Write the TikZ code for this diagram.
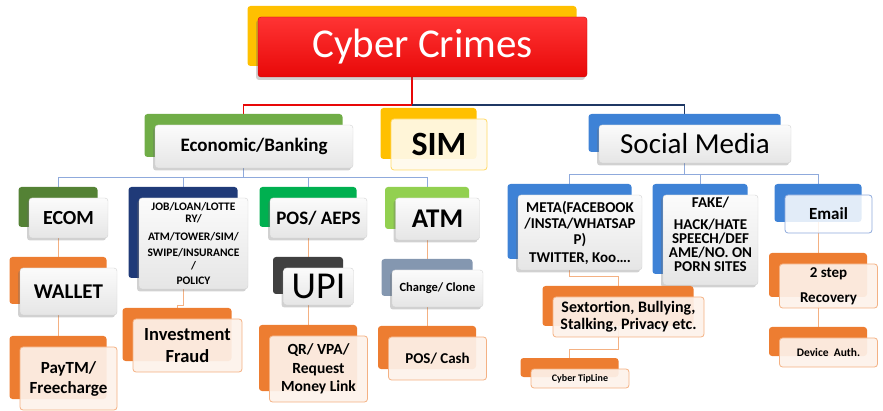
\documentclass[tikz,border=0pt]{standalone}
\usepackage{fontspec}
\setmainfont{Carlito}
\usetikzlibrary{shadows,backgrounds}

\definecolor{cyberyellow}{HTML}{FFC000}
\definecolor{cyberred}{HTML}{E80808}
\definecolor{cyberredtop}{HTML}{FF3434}
\definecolor{ecogreen}{HTML}{70AD47}
\definecolor{ecomgreen}{HTML}{548235}
\definecolor{posgreen}{HTML}{00B050}
\definecolor{atmgreen}{HTML}{92D050}
\definecolor{jobnavy}{HTML}{1F3A78}
\definecolor{smblue}{HTML}{3E82D6}
\definecolor{cardorange}{HTML}{ED7D31}
\definecolor{upigray}{HTML}{404040}
\definecolor{slate}{HTML}{8497B0}
\definecolor{peachfill}{HTML}{FDF2EA}
\definecolor{orangeline}{HTML}{F4B183}
\definecolor{blueline}{HTML}{8FAADC}
\definecolor{navyline}{HTML}{1F3864}
\definecolor{creamfill}{HTML}{FFFAEB}
\definecolor{creamline}{HTML}{FFD966}

\tikzset{
  back/.style={fill=#1, rounded corners=3pt, inner sep=0pt},
  wh/.style 2 args={minimum width=#1pt, minimum height=#2pt},
  fs/.style 2 args={font=\bfseries\fontsize{#1}{#2}\selectfont},
  fr/.style 2 args={font=\fontsize{#1}{#2}\selectfont},
  front/.style={xshift=10.5pt, yshift=-11pt, rounded corners=3pt, inner sep=1pt, align=center},
  glossy/.style={front, top color=gray!3, bottom color=gray!20, draw=gray!35, line width=.4pt,
    drop shadow={shadow xshift=-2pt, shadow yshift=-2.5pt, opacity=.3, fill=black!60}},
  peach/.style={front, fill=peachfill, fill opacity=.92, text opacity=1, draw=orangeline, line width=.8pt},
  cream/.style={front, fill=creamfill, fill opacity=.92, text opacity=1, draw=creamline, line width=.8pt},
  mailbox/.style={front, fill=white, fill opacity=.85, text opacity=1, draw=blueline, line width=.8pt},
  redbox/.style={front, top color=cyberredtop, bottom color=cyberred, draw=cyberred!85!black, text=white,
    drop shadow={shadow xshift=-2pt, shadow yshift=-3pt, opacity=.3, fill=black!60}},
  bigline/.style={line width=1.6pt},
  thinline/.style={line width=.7pt}
}

\begin{document}
\begin{tikzpicture}[x=1pt, y=-1pt]
\useasboundingbox (0,0) rectangle (883,411);

% top level
\node[back=cyberyellow, wh={329}{60}] (cyberB) at (412,36) {};
\node[redbox, wh={329}{60}, fr={41}{48}] (cyber) at (cyberB) {Cyber Crimes};

\node[back=ecogreen, wh={198}{43}] (ecoB) at (243.5,135.5) {};
\node[glossy, wh={198}{43}, fs={19}{23}] (eco) at (ecoB) {Economic/Banking};

\node[back=cyberyellow, wh={96}{51}] (simB) at (428.5,133.5) {};
\node[cream, wh={96}{51}, fs={34}{40}] (sim) at (simB) {SIM};

\node[back=smblue, wh={192}{38}] (socialB) at (684.5,133) {};
\node[glossy, wh={192}{38}, fr={29}{34}] (social) at (socialB) {Social Media};

% economic / banking
\node[back=ecomgreen, wh={79}{40}] (ecomB) at (58,207) {};
\node[glossy, wh={79}{40}, fs={20}{24}] (ecom) at (ecomB) {ECOM};

\node[back=jobnavy, wh={109}{91}] (jobB) at (183,232.5) {};
\node[glossy, wh={109}{91}, fs={11.5}{12.5}] (job) at (jobB)
  {JOB/LOAN/LOTTE\\RY/\\[5pt]ATM/TOWER/SIM/\\[4pt]SWIPE/INSURANCE\\/\\[3pt]POLICY};

\node[back=posgreen, wh={97}{40}] (posB) at (308,207) {};
\node[glossy, wh={97}{40}, fs={19}{23}] (pos) at (posB) {POS/ AEPS};

\node[back=atmgreen, wh={84}{42}] (atmB) at (427,208) {};
\node[glossy, wh={84}{42}, fs={27}{32}] (atm) at (atmB) {ATM};

\node[back=cardorange, wh={97}{47}] (walletB) at (58,280.5) {};
\node[glossy, wh={97}{47}, fs={21}{25}] (wallet) at (walletB) {WALLET};

\node[back=cardorange, wh={97}{63}] (paytmB) at (58,367.5) {};
\node[peach, wh={97}{63}, fs={17}{20}] (paytm) at (paytmB) {PayTM/\\Freecharge};

\node[back=cardorange, wh={109}{53}] (investB) at (177,334.5) {};
\node[peach, wh={109}{53}, fs={18.5}{22.5}] (invest) at (investB) {Investment\\Fraud};

\node[back=upigray, wh={70}{37}] (upiB) at (308,275.5) {};
\node[glossy, wh={70}{37}, fr={38}{44}] (upi) at (upiB) {UPI};

\node[back=cardorange, wh={98}{66}] (qrB) at (308,358) {};
\node[peach, wh={98}{66}, fs={15.5}{18.5}] (qr) at (qrB) {QR/ VPA/\\Request\\Money Link};

\node[back=slate, wh={91}{37}] (changeB) at (427,277.5) {};
\node[glossy, wh={91}{37}, fs={12.5}{15}] (change) at (changeB) {Change/ Clone};

\node[back=cardorange, wh={98}{43}] (poscashB) at (427,347.5) {};
\node[peach, wh={98}{43}, fs={15}{18}] (poscash) at (poscashB) {POS/ Cash};

% social media
\node[back=smblue, wh={124}{75}] (metaB) at (569.5,221.5) {};
\node[glossy, wh={124}{75}, fs={15}{16}] (meta) at (metaB)
  {META(FACEBOOK\\/INSTA/WHATSAP\\P)\\[2pt]TWITTER, Koo….};

\node[back=smblue, wh={95}{90}] (fakeB) at (700,229) {};
\node[glossy, wh={95}{90}, fs={15}{14}] (fake) at (fakeB)
  {FAKE/\\[8pt]HACK/HATE\\SPEECH/DEF\\AME/NO. ON\\PORN SITES\\[-2pt]\mbox{}};

\node[back=smblue, wh={87}{38}] (emailB) at (818,203) {};
\node[mailbox, wh={87}{38}, fs={17}{20}] (email) at (emailB) {Email};

\node[back=cardorange, wh={98}{44}] (recB) at (818,275) {};
\node[peach, wh={98}{44}, fs={15}{25}] (rec) at (recB) {2 step\\Recovery};

\node[back=cardorange, wh={98}{29}] (devB) at (818,341.5) {};
\node[peach, wh={98}{29}, fs={11.5}{14}] (dev) at (devB) {Device~ Auth.};

\node[back=cardorange, wh={151}{40}] (sextB) at (618,306) {};
\node[peach, wh={151}{40}, fs={16}{17}] (sext) at (sextB) {Sextortion, Bullying,\\Stalking, Privacy etc.};

\node[back=cardorange, wh={98}{19}] (tipB) at (569.5,367.5) {};
\node[peach, wh={98}{19}, fs={10}{12}] (tip) at (tipB) {Cyber TipLine};

% connectors
\coordinate (topbus) at (0,105);
\coordinate (ecobus) at (0,177);
\coordinate (smbus) at (0,174);
\begin{scope}[on background layer]
  \draw[bigline, cyberred] (cyberB.south) |- (ecoB.north |- topbus) -- (ecoB.north);
  \draw[bigline, navyline] (cyberB.south |- topbus) -| (socialB.north);

  \draw[thinline, blueline] (ecoB.south) -- (ecoB.south |- ecobus);
  \draw[thinline, blueline] (ecomB.north |- ecobus) -- (atmB.north |- ecobus);
  \foreach \n in {ecomB,jobB,posB,atmB}
    \draw[thinline, blueline] (\n.north) -- (\n.north |- ecobus);

  \draw[thinline, blueline] (socialB.south) -- (socialB.south |- smbus);
  \draw[thinline, blueline] (metaB.north |- smbus) -- (emailB.north |- smbus);
  \foreach \n in {metaB,fakeB,emailB}
    \draw[thinline, blueline] (\n.north) -- (\n.north |- smbus);

  \draw[thinline, orangeline] (ecomB.south) -- (walletB.north);
  \draw[thinline, orangeline] (walletB.south) -- (paytmB.north);
  \draw[thinline, orangeline] (jobB.south) -- ++(0,27) -| (investB.north);
  \draw[thinline, orangeline] (posB.south) -- (upiB.north);
  \draw[thinline, orangeline] (upiB.south) -- (qrB.north);
  \draw[thinline, orangeline] (atmB.south) -- (changeB.north);
  \draw[thinline, orangeline] (changeB.south) -- (poscashB.north);
  \draw[thinline, orangeline] (metaB.south) -- ++(0,17) -| (sextB.north);
  \draw[thinline, orangeline] (sextB.south) -- ++(0,23) -| (tipB.north);
  \draw[thinline, orangeline] (emailB.south) -- (recB.north);
  \draw[thinline, orangeline] (recB.south) -- (devB.north);
\end{scope}

\end{tikzpicture}
\end{document}
